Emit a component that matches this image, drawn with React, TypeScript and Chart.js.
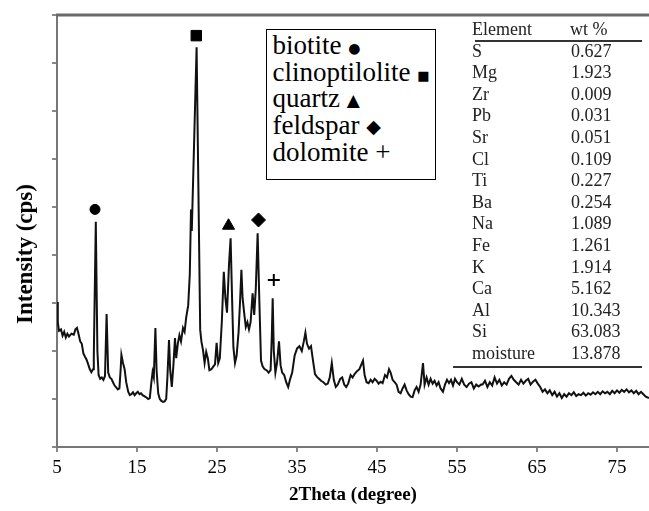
import React, { useEffect, useRef } from "react";
import { Chart, registerables } from "chart.js";

Chart.register(...registerables);

// 2θ (degree) positions of the XRD trace
const twoTheta = [
  5.0, 5.1, 5.25, 5.5, 5.7, 5.9, 6.1, 6.3, 6.5, 6.8, 7.1, 7.3, 7.5, 7.7, 7.9, 8.1, 8.3, 8.5, 8.7, 8.9,
  9.1, 9.3, 9.5, 9.6, 9.85, 10.05, 10.2, 10.4, 10.6, 10.8, 11.0, 11.2, 11.4, 11.6, 11.8, 12.0, 12.2, 12.4, 12.6, 12.8,
  12.95, 13.05, 13.25, 13.45, 13.65, 13.9, 14.1, 14.3, 14.5, 14.7, 14.9, 15.1, 15.3, 15.5, 15.7, 15.9, 16.1, 16.4, 16.6, 16.8,
  16.95, 17.1, 17.3, 17.45, 17.65, 17.85, 18.05, 18.25, 18.45, 18.65, 18.8, 19.0, 19.15, 19.35, 19.55, 19.75, 19.9, 20.1, 20.3, 20.5,
  20.75, 20.95, 21.15, 21.4, 21.6, 21.75, 21.85, 22.45, 22.9, 23.05, 23.25, 23.45, 23.65, 23.85, 24.05, 24.3, 24.55, 24.75, 24.95, 25.15,
  25.35, 25.6, 25.85, 26.05, 26.25, 26.5, 26.7, 26.9, 27.05, 27.25, 27.45, 27.7, 27.9, 28.05, 28.2, 28.4, 28.6, 28.8, 29.0, 29.2,
  29.45, 29.65, 29.85, 30.08, 30.3, 30.5, 30.7, 30.95, 31.2, 31.45, 31.7, 31.85, 31.96, 32.1, 32.3, 32.5, 32.75, 32.95, 33.15, 33.4,
  33.65, 33.9, 34.15, 34.4, 34.7, 35.0, 35.3, 35.6, 35.85, 36.05, 36.25, 36.5, 36.75, 37.0, 37.25, 37.5, 37.75, 38.0, 38.3, 38.6,
  38.85, 39.1, 39.35, 39.6, 39.85, 40.1, 40.4, 40.65, 40.9, 41.15, 41.4, 41.7, 41.95, 42.2, 42.5, 42.8, 43.05, 43.25, 43.45, 43.7,
  43.95, 44.2, 44.45, 44.7, 44.95, 45.2, 45.45, 45.7, 46.0, 46.25, 46.5, 46.7, 46.95, 47.2, 47.45, 47.7, 47.95, 48.2, 48.45, 48.7,
  48.95, 49.2, 49.45, 49.7, 49.95, 50.2, 50.45, 50.75, 50.95, 51.2, 51.45, 51.7, 51.95, 52.2, 52.45, 52.7, 52.95, 53.25, 53.5, 53.75,
  54.0, 54.25, 54.5, 54.75, 55.0, 55.3, 55.6, 55.9, 56.2, 56.5, 56.8, 57.1, 57.4, 57.7, 58.0, 58.2, 58.5, 58.8, 59.1, 59.4,
  59.7, 60.0, 60.3, 60.6, 60.9, 61.2, 61.5, 61.8, 62.1, 62.4, 62.7, 63.0, 63.3, 63.6, 63.9, 64.2, 64.5, 64.8, 65.1, 65.4,
  65.7, 66.0, 66.3, 66.6, 66.9, 67.2, 67.5, 67.8, 68.1, 68.4, 68.7, 69.0, 69.3, 69.6, 69.9, 70.2, 70.5, 70.8, 71.1, 71.4,
  71.7, 72.0, 72.3, 72.6, 72.9, 73.2, 73.5, 73.8, 74.1, 74.4, 74.7, 75.0, 75.3, 75.6, 75.9, 76.2, 76.5, 76.8, 77.1, 77.4,
  77.7, 78.0, 78.3, 78.6, 79.0,
];

// Intensity (arbitrary units, y axis 0..9 tick steps)
const intensity = [
  3.02, 2.6, 2.42, 2.45, 2.32, 2.4, 2.28, 2.36, 2.3, 2.36, 2.34, 2.45, 2.48, 2.35, 2.2, 2.15, 1.95, 1.88, 1.82, 1.72,
  1.62, 1.56, 1.62, 1.9, 4.69, 2.0, 1.5, 1.42, 1.45, 1.4, 1.48, 2.77, 1.55, 1.45, 1.42, 1.35, 1.28, 1.24, 1.2, 1.22,
  1.6, 1.92, 1.75, 1.62, 1.35, 1.15, 1.08, 1.1, 1.14, 1.08, 1.12, 1.15, 1.1, 1.12, 1.08, 1.06, 1.04, 1.0, 1.02, 1.35,
  1.56, 1.45, 2.48, 1.6, 1.12, 1.0, 0.96, 0.94, 0.95, 1.0, 1.45, 2.23, 1.6, 1.25, 1.7, 2.27, 1.85, 2.15, 2.33, 2.2,
  2.48, 2.4, 2.7, 2.95, 3.6, 4.95, 4.5, 8.33, 2.44, 2.2, 2.02, 1.75, 1.98, 1.85, 1.6, 1.62, 1.68, 1.72, 2.17, 1.75,
  1.85, 2.6, 3.65, 3.1, 2.8, 3.8, 4.35, 3.0, 2.08, 1.75, 1.9, 2.4, 3.1, 3.69, 3.1, 2.79, 2.5, 2.6, 2.45, 2.6,
  3.2, 2.75, 3.3, 4.45, 3.0, 1.8, 1.68, 1.62, 1.6, 1.55, 1.6, 2.3, 3.1, 2.0, 1.55, 1.75, 2.2, 1.7, 1.55, 1.5,
  1.35, 1.25, 1.42, 1.55, 1.9, 2.05, 2.1, 2.0, 2.2, 2.38, 2.15, 2.05, 2.1, 1.8, 1.52, 1.46, 1.42, 1.38, 1.35, 1.3,
  1.32, 1.45, 1.75, 1.4, 1.25, 1.3, 1.42, 1.45, 1.3, 1.25, 1.32, 1.5, 1.45, 1.52, 1.58, 1.62, 1.72, 1.8, 1.5, 1.35,
  1.33, 1.4, 1.35, 1.42, 1.38, 1.32, 1.36, 1.33, 1.5, 1.45, 1.62, 1.55, 1.4, 1.35, 1.3, 1.15, 1.12, 1.22, 1.3, 1.18,
  1.1, 1.05, 1.04, 1.18, 1.25, 1.15, 1.3, 1.75, 1.3, 1.45, 1.3, 1.42, 1.32, 1.38, 1.28, 1.35, 1.22, 1.15, 1.3, 1.4,
  1.33, 1.4, 1.28, 1.42, 1.35, 1.3, 1.42, 1.3, 1.25, 1.32, 1.35, 1.22, 1.3, 1.26, 1.3, 1.3, 1.38, 1.25, 1.35, 1.28,
  1.45, 1.32, 1.4, 1.28, 1.35, 1.3, 1.42, 1.48, 1.4, 1.35, 1.3, 1.4, 1.32, 1.38, 1.42, 1.3, 1.36, 1.4, 1.32, 1.25,
  1.15, 1.2, 1.12, 1.18, 1.08, 1.15, 1.05, 1.12, 1.02, 1.1, 1.05, 1.12, 1.08, 1.14, 1.06, 1.1, 1.08, 1.13, 1.07, 1.12,
  1.09, 1.14, 1.1, 1.15, 1.1, 1.16, 1.12, 1.15, 1.1, 1.17, 1.12, 1.18, 1.13, 1.19, 1.15, 1.2, 1.14, 1.18, 1.12, 1.17,
  1.1, 1.15, 1.1, 1.05, 1.02,
];

// Phase markers placed above peaks
const markerTheta = [9.75, 22.41, 26.44, 30.19, 32.1];
const markerHeight = [4.95, 8.57, 4.61, 4.73, 3.48];
const markerStyles = ["circle", "rect", "triangle", "rectRot", "cross"];
const markerRadius = [5, 7.4, 7, 7, 6];

const xTicks = [5, 15, 25, 35, 45, 55, 65, 75];
const yTicks = [0, 1, 2, 3, 4, 5, 6, 7, 8, 9];

// Legend entries
const phaseNames = ["biotite", "clinoptilolite", "quartz", "feldspar", "dolomite"];
const phaseSymbols = ["●", "■", "▲", "◆", "+"];
const phaseSymbolSize = [14, 13, 17, 19, 27];

// Elemental composition table
const elements = ["S", "Mg", "Zr", "Pb", "Sr", "Cl", "Ti", "Ba", "Na", "Fe", "K", "Ca", "Al", "Si", "moisture"];
const wtPercent = ["0.627", "1.923", "0.009", "0.031", "0.051", "0.109", "0.227", "0.254", "1.089", "1.261", "1.914", "5.162", "10.343", "63.083", "13.878"];

const SERIF = "'Liberation Serif', 'Times New Roman', serif";

const framePlugin = {
  id: "topFrame",
  afterDraw(chart: any) {
    const { ctx, chartArea } = chart;
    ctx.save();
    ctx.strokeStyle = "#6a6a6a";
    ctx.lineWidth = 3;
    ctx.beginPath();
    ctx.moveTo(chartArea.left - 1, chartArea.top);
    ctx.lineTo(chartArea.right, chartArea.top);
    ctx.stroke();
    ctx.restore();
  },
};

export default function App() {
  const ref = useRef<HTMLCanvasElement | null>(null);

  useEffect(() => {
    if (!ref.current) return;
    const chart = new Chart(ref.current, {
      type: "line",
      data: {
        datasets: [
          {
            data: twoTheta.map((x, i) => ({ x, y: intensity[i] })),
            borderColor: "#111",
            borderWidth: 2,
            pointRadius: 0,
            tension: 0,
            fill: false,
            order: 2,
          },
          {
            type: "scatter",
            data: markerTheta.map((x, i) => ({ x, y: markerHeight[i] })),
            pointStyle: markerStyles as any,
            pointRadius: markerRadius,
            backgroundColor: "#000",
            borderColor: "#000",
            borderWidth: [1, 1, 1, 1, 2],
            showLine: false,
            order: 1,
          } as any,
        ],
      },
      options: {
        animation: false,
        responsive: false,
        maintainAspectRatio: false,
        layout: { autoPadding: false, padding: { top: 15, left: 0, right: 0, bottom: 0 } },
        plugins: { legend: { display: false }, tooltip: { enabled: false } },
        scales: {
          x: {
            type: "linear",
            min: 5,
            max: 79,
            afterFit: (s: any) => {
              s.height = 64;
              s.paddingLeft = 0;
              s.paddingRight = 0;
            },
            afterBuildTicks: (s: any) => {
              s.ticks = xTicks.map((v) => ({ value: v }));
            },
            ticks: {
              font: { family: SERIF, size: 19 },
              color: "#000",
              padding: 5,
              maxRotation: 0,
              autoSkip: false,
            },
            grid: { drawOnChartArea: false, drawTicks: true, tickLength: 5, color: "#888", lineWidth: 2 },
            border: { display: true, color: "#777", width: 2 },
            title: {
              display: true,
              text: "2Theta (degree)",
              font: { family: SERIF, size: 19, weight: "bold" },
              color: "#000",
              padding: { top: 0, bottom: 5 },
            },
          },
          y: {
            min: 0,
            max: 9,
            afterFit: (s: any) => {
              s.width = 57;
              s.paddingTop = 0;
              s.paddingBottom = 0;
            },
            afterBuildTicks: (s: any) => {
              s.ticks = yTicks.map((v) => ({ value: v }));
            },
            ticks: { display: false },
            grid: { drawOnChartArea: false, drawTicks: true, tickLength: 5, color: "#888", lineWidth: 2 },
            border: { display: true, color: "#777", width: 2 },
          },
        },
      },
      plugins: [framePlugin],
    } as any);
    return () => chart.destroy();
  }, []);

  const rowH = 21.6;

  return (
    <div style={{ position: "absolute", left: 0, top: 0, width: 649, height: 511, background: "#fff", overflow: "hidden" }}>
      <canvas ref={ref} width={649} height={511} style={{ display: "block", width: 649, height: 511 }} />

      {/* Y axis title */}
      <div
        style={{
          position: "absolute",
          left: 25,
          top: 254,
          transform: "translate(-50%, -50%) rotate(-90deg)",
          fontFamily: SERIF,
          fontWeight: "bold",
          fontSize: 23,
          whiteSpace: "nowrap",
          color: "#000",
        }}
      >
        Intensity (cps)
      </div>

      {/* Phase legend box */}
      <div
        style={{
          position: "absolute",
          left: 266,
          top: 29,
          width: 170,
          height: 151,
          boxSizing: "border-box",
          border: "1.5px solid #000",
          background: "#fff",
          padding: "2px 0 0 5.5px",
          fontFamily: SERIF,
          fontSize: 27,
          lineHeight: "26.7px",
          color: "#000",
          whiteSpace: "nowrap",
        }}
      >
        {phaseNames.map((n, i) => (
          <div key={n} style={{ height: 26.7 }}>
            {n}{" "}
            <span
              style={{
                fontSize: phaseSymbolSize[i],
                fontFamily: i === 4 ? SERIF : "'DejaVu Sans', sans-serif",
                verticalAlign: i === 4 ? "baseline" : "1px",
              }}
            >
              {phaseSymbols[i]}
            </span>
          </div>
        ))}
      </div>

      {/* Composition table */}
      <div style={{ position: "absolute", left: 475, top: 40, width: 167, height: 1.5, background: "#333" }} />
      <div style={{ position: "absolute", left: 453, top: 366, width: 189, height: 1.5, background: "#333" }} />
      <div
        style={{
          position: "absolute",
          left: 472,
          top: 19,
          fontFamily: SERIF,
          fontSize: 18,
          color: "#222",
          whiteSpace: "nowrap",
        }}
      >
        <div style={{ display: "flex", height: rowH, lineHeight: rowH + "px" }}>
          <div style={{ width: 98 }}>Element</div>
          <div>wt %</div>
        </div>
        {elements.map((e, i) => (
          <div key={e} style={{ display: "flex", height: rowH, lineHeight: rowH + "px" }}>
            <div style={{ width: 99 }}>{e}</div>
            <div>{wtPercent[i]}</div>
          </div>
        ))}
      </div>
    </div>
  );
}
